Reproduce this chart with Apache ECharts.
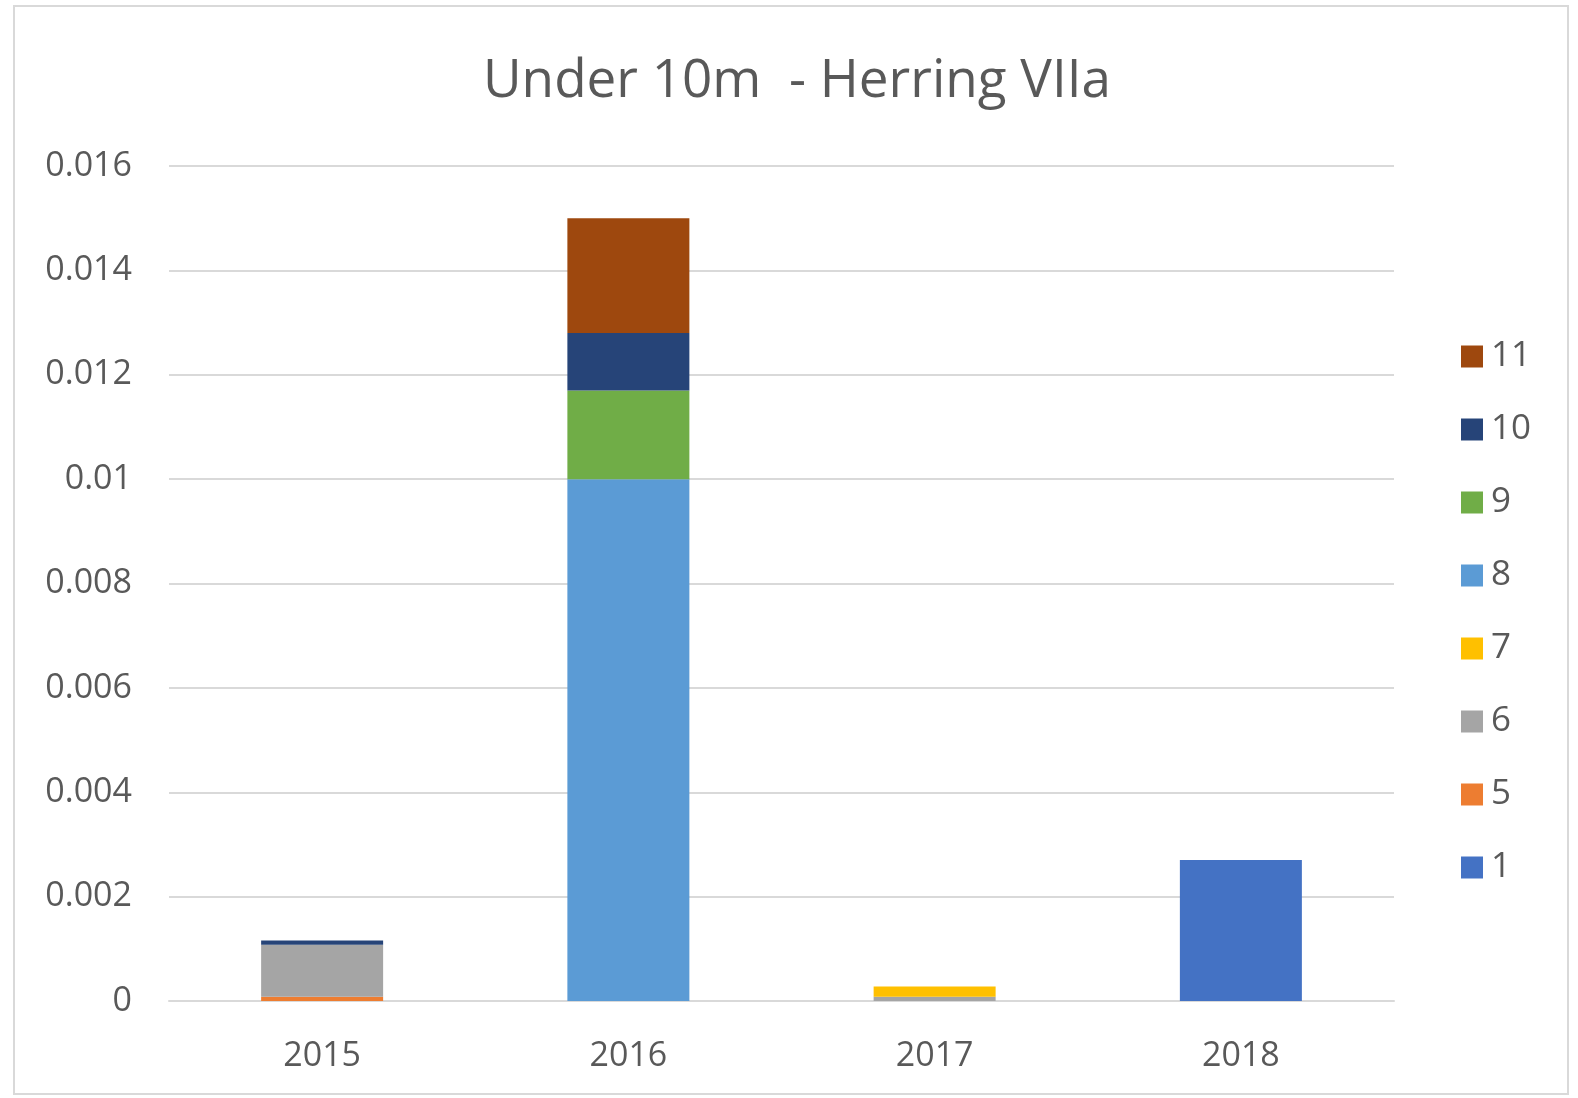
<!DOCTYPE html>
<html>
<head>
<meta charset="utf-8">
<script src="https://cdn.jsdelivr.net/npm/echarts@6/dist/echarts.min.js"></script>
<style>
    html, body { margin: 0; padding: 0; background: #fff; }
    #frame {
        position: absolute; left: 13px; top: 5px;
        width: 1556px; height: 1090px;
        border: 2px solid #d9d9d9; box-sizing: border-box;
    }
    #chart { position: absolute; left: 0; top: 0; width: 1578px; height: 1098px; }
</style>
</head>
<body>
<div id="frame"></div>
<div id="chart"></div>
<script>
    var years = ['2015', '2016', '2017', '2018'];
    // stacked from the bottom up
    var seriesNames = ['1', '5', '6', '7', '8', '9', '10', '11'];
    var s1 = [0, 0, 0, 0.0027];
    var s5 = [0.00008, 0, 0, 0];
    var s6 = [0.001, 0, 0.00008, 0];
    var s7 = [0, 0, 0.0002, 0];
    var s8 = [0, 0.01, 0, 0];
    var s9 = [0, 0.0017, 0, 0];
    var s10 = [0.00008, 0.0011, 0, 0];
    var s11 = [0, 0.0022, 0, 0];
    var legendOrder = ['11', '10', '9', '8', '7', '6', '5', '1'];

    var seriesData = [s1, s5, s6, s7, s8, s9, s10, s11];
    var colors = ['#4472C4', '#ED7D31', '#A5A5A5', '#FFC000', '#5B9BD5', '#70AD47', '#264478', '#9E480E'];
    var font = '"Open Sans", sans-serif';

    var chart = echarts.init(document.getElementById('chart'));
    var series = seriesNames.map(function (name, i) {
        return {
            name: name,
            type: 'bar',
            stack: 'total',
            barWidth: 122,
            itemStyle: { color: colors[i] },
            data: seriesData[i]
        };
    });

    var option = {
        animation: false,
        title: {
            text: 'Under 10m  - Herring VIIa',
            left: 792,
            textAlign: 'center',
            top: 50,
            textStyle: { fontFamily: font, fontSize: 53, fontWeight: 'normal', color: '#595959' }
        },
        legend: {
            orient: 'vertical',
            left: 1456,
            top: 334,
            itemWidth: 22,
            itemHeight: 22,
            itemGap: 38,
            icon: 'rect',
            data: legendOrder,
            textStyle: { fontFamily: font, fontSize: 35, color: '#595959', padding: [0, 0, 0, 3] }
        },
        grid: { left: 169, right: 184, top: 166, bottom: 97 },
        xAxis: {
            type: 'category',
            data: years,
            axisTick: { show: false },
            axisLine: { lineStyle: { color: '#d9d9d9', width: 2 } },
            axisLabel: { fontFamily: font, fontSize: 34, color: '#595959', margin: 38 }
        },
        yAxis: {
            type: 'value',
            min: 0,
            max: 0.016,
            interval: 0.002,
            axisLine: { show: false },
            axisTick: { show: false },
            splitLine: { lineStyle: { color: '#d9d9d9', width: 2 } },
            axisLabel: { fontFamily: font, fontSize: 34, color: '#595959', margin: 37 }
        },
        series: series
    };
    chart.setOption(option);
</script>
</body>
</html>
